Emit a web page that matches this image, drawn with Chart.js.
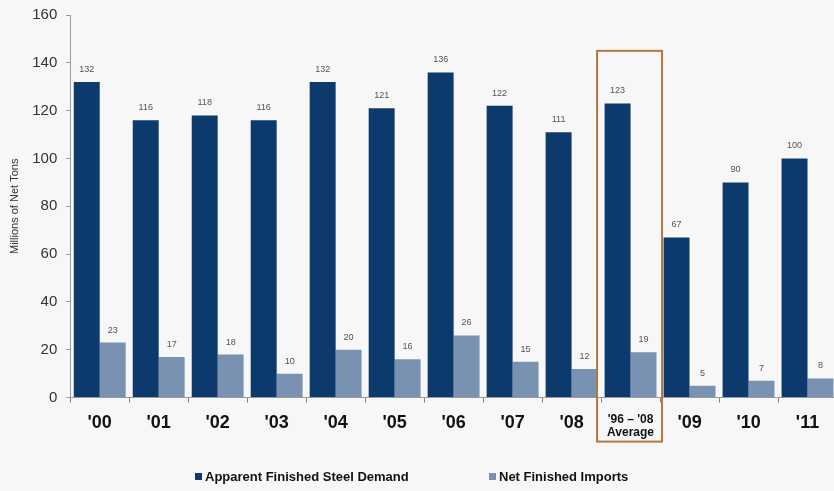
<!DOCTYPE html>
<html>
<head>
<meta charset="utf-8">
<script src="https://cdn.jsdelivr.net/npm/chart.js@4/dist/chart.umd.min.js"></script>
<style>
  html, body { margin: 0; padding: 0; background: #f7f7f7; overflow: hidden; }
  #wrap { width: 834px; height: 491px; overflow: hidden; position: relative; }
  #box { width: 850px; height: 494px; position: absolute; left: 0; top: -3px; }
  .leg { position: absolute; top: 469px; font: bold 13px Arial, "Liberation Sans", sans-serif; color: #111; white-space: nowrap; }
  .leg i { display: inline-block; width: 7px; height: 7px; margin-right: 3px; vertical-align: 1px; }
</style>
</head>
<body>
<div id="wrap">
  <div id="box"><canvas id="steelChart"></canvas></div>
  <div class="leg" id="leg0" style="left:195px"></div>
  <div class="leg" id="leg1" style="left:489px"></div>
</div>
<script>
const years = ["'00", "'01", "'02", "'03", "'04", "'05", "'06", "'07", "'08", ["'96 \u2013 '08", "Average"], "'09", "'10", "'11"];
const demand = [132, 116, 118, 116, 132, 121, 136, 122, 111, 123, 67, 90, 100];
const imports = [23, 17, 18, 10, 20, 16, 26, 15, 12, 19, 5, 7, 8];
const yTicks = [0, 20, 40, 60, 80, 100, 120, 140, 160];
const seriesNames = ["Apparent Finished Steel Demand", "Net Finished Imports"];
const seriesColors = ["#0c3a6c", "#7a92b2"];
const highlightIndex = 9;

const valueLabels = {
    id: "valueLabels",
    afterDatasetsDraw(chart) {
        const ctx = chart.ctx;
        ctx.save();
        ctx.font = "9px Arial, 'Liberation Sans', sans-serif";
        ctx.fillStyle = "#555";
        ctx.textAlign = "center";
        ctx.textBaseline = "bottom";
        chart.data.datasets.forEach((ds, i) => {
            chart.getDatasetMeta(i).data.forEach((bar, j) => {
                ctx.fillText(ds.data[j], bar.x, bar.y - 8);
            });
        });
        ctx.restore();
    }
};

const averageBox = {
    id: "averageBox",
    afterDraw(chart) {
        const x = chart.scales.x, y = chart.scales.y;
        const c = x.getPixelForValue(highlightIndex);
        const half = (x.getPixelForValue(highlightIndex + 1) - c) / 2;
        const top = y.getPixelForValue(145);
        const ctx = chart.ctx;
        ctx.save();
        ctx.strokeStyle = "#b5773f";
        ctx.lineWidth = 2;
        ctx.strokeRect(c - half - 4, top, 2 * half + 6, y.bottom + 44 - top);
        ctx.restore();
    }
};

new Chart(document.getElementById("steelChart"), {
    type: "bar",
    data: {
        labels: years,
        datasets: [{
            label: seriesNames[0],
            data: demand,
            backgroundColor: seriesColors[0],
            categoryPercentage: 0.88,
            barPercentage: 1
        }, {
            label: seriesNames[1],
            data: imports,
            backgroundColor: seriesColors[1],
            categoryPercentage: 0.88,
            barPercentage: 1
        }]
    },
    options: {
        responsive: true,
        maintainAspectRatio: false,
        animation: false,
        layout: { padding: { left: 0, right: 13, top: 0, bottom: 42 } },
        scales: {
            x: {
                grid: { drawOnChartArea: false, drawTicks: true, tickLength: 5, color: "#888" },
                border: { color: "#999" },
                ticks: {
                    color: "#111",
                    padding: 10,
                    maxRotation: 0,
                    autoSkip: false,
                    font: ctx => ctx.index === highlightIndex
                        ? { family: "Arial, 'Liberation Sans', sans-serif", size: 12, weight: "bold", lineHeight: 1.1 }
                        : { family: "Arial, 'Liberation Sans', sans-serif", size: 18, weight: "bold" }
                }
            },
            y: {
                min: 0,
                max: 160,
                afterBuildTicks: axis => { axis.ticks = yTicks.map(v => ({ value: v })); },
                grid: { drawOnChartArea: false, drawTicks: true, tickLength: 4, color: "#999" },
                border: { color: "#999" },
                ticks: {
                    color: "#333",
                    padding: 9,
                    font: { family: "Arial, 'Liberation Sans', sans-serif", size: 15 }
                },
                title: {
                    display: true,
                    text: "Millions of Net Tons",
                    color: "#333",
                    padding: { top: 8, bottom: 2 },
                    font: { family: "Arial, 'Liberation Sans', sans-serif", size: 11 }
                }
            }
        },
        plugins: {
            legend: { display: false },
            tooltip: { enabled: false }
        }
    },
    plugins: [valueLabels, averageBox]
});

seriesNames.forEach((name, i) => {
    const el = document.getElementById("leg" + i);
    const sw = document.createElement("i");
    sw.style.background = seriesColors[i];
    el.appendChild(sw);
    el.appendChild(document.createTextNode(name));
});
</script>
</body>
</html>
